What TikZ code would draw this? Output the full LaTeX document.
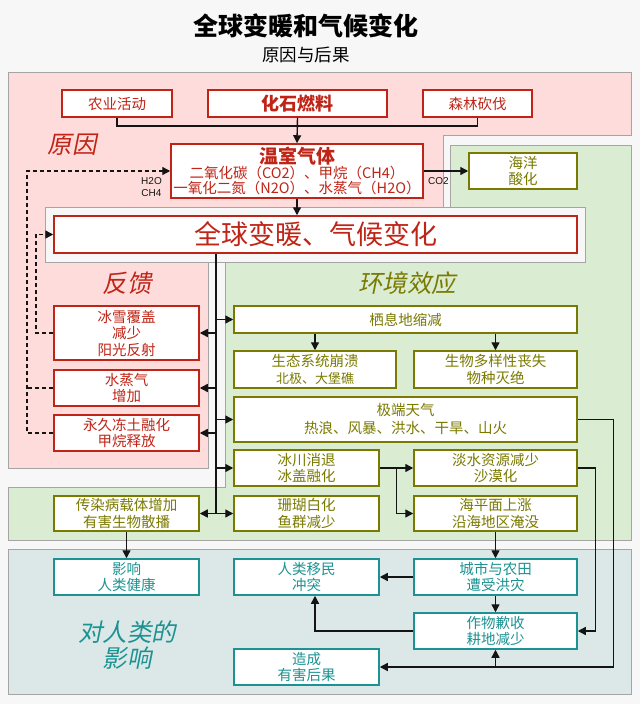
\documentclass[tikz,border=0pt]{standalone}
\usepackage{fontspec}
\setmainfont{Noto Sans CJK SC}
\newfontfamily\slfont[FakeSlant=0.2]{Noto Sans CJK SC}
\newfontfamily\arialf{Liberation Sans}
\usetikzlibrary{arrows.meta,calc}
\definecolor{bgc}{RGB}{247,247,247}
\definecolor{pinkc}{RGB}{255,220,220}
\definecolor{greenc}{RGB}{218,237,211}
\definecolor{tealc}{RGB}{220,232,232}
\definecolor{regb}{RGB}{165,165,165}
\definecolor{redc}{RGB}{192,36,22}
\definecolor{olivec}{RGB}{122,122,0}
\definecolor{tealt}{RGB}{28,146,146}
\definecolor{linec}{RGB}{20,20,20}
\tikzset{
 box/.style={draw, line width=1.5pt, fill=white, inner sep=0pt, align=center, font=\fontsize{14.5}{16.5}\selectfont},
 redbox/.style={box, draw=redc, text=redc},
 olbox/.style={box, draw=olivec, text=olivec},
 tlbox/.style={box, draw=tealt, text=tealt},
 sz/.style 2 args={minimum width=#1pt, minimum height=#2pt},
 conn/.style={draw=linec, line width=1.4pt},
 arr/.style={conn, -{Triangle[length=8pt,width=8pt]}},
 darr/.style={conn, {Triangle[length=8pt,width=8pt]}-{Triangle[length=8pt,width=8pt]}},
 dsh/.style={conn, dash pattern=on 4pt off 3pt},
 region/.style={draw=regb, line width=1pt},
 lbl/.style={font=\arialf\fontsize{10}{12}\selectfont, text=linec, inner sep=0pt},
 sect/.style={font=\slfont\fontsize{24.5}{27}\selectfont, inner sep=0pt, align=center},
}
\begin{document}
\begin{tikzpicture}[x=1pt,y=-1pt]
\useasboundingbox (0,0) rectangle (640,704);
\fill[bgc] (0,0) rectangle (640,704);
% regions
\path[region, fill=pinkc] (8,72) -- (631,72) -- (631,135) -- (443,135) -- (443,240) -- (208,240) -- (208,468) -- (8,468) -- cycle;
\path[region, fill=greenc] (450,145) -- (631,145) -- (631,540) -- (8,540) -- (8,487) -- (225,487) -- (225,240) -- (450,240) -- cycle;
\path[region, fill=bgc] (45,207) rectangle (585,262);
\path[region, fill=tealc] (8,549) rectangle (631,694);
% titles
\node[font=\fontsize{25}{28}\selectfont\bfseries, inner sep=0pt] (title) at (306,26) {全球变暖和气候变化};
\node[font=\fontsize{17.5}{20}\selectfont, inner sep=0pt] (subtitle) at (306,55) {原因与后果};
% section labels
\node[sect, text=redc] (lcause) at (72,145) {原因};
\node[sect, text=redc] (lfb) at (127,283) {反馈};
\node[sect, text=olivec] (lenv) at (407,283) {环境效应};
\node[sect, text=tealt, font=\slfont\fontsize{24.5}{26}\selectfont] (lhum) at (127,645) {对人类的\\影响};
% causes
\node[redbox, sz={110}{27}] (agri) at (117,103.5) {农业活动};
\node[redbox, sz={179}{27}, font=\fontsize{18}{20}\selectfont\bfseries] (fossil) at (297.5,103.5) {化石燃料};
\node[redbox, sz={252}{54}, font=\fontsize{14.5}{15}\selectfont] (ghg) at (297,171) {{\fontsize{19}{20}\selectfont\bfseries 温室气体}\\[-0.5pt]二氧化碳（CO2）、甲烷（CH4）\\一氧化二氮（N2O）、水蒸气（H2O）};
\node[redbox, sz={109}{27}] (forest) at (477.5,103.5) {森林砍伐};
\node[olbox, sz={108}{36}] (ocean) at (523,171) {海洋\\酸化};
\node[redbox, sz={523}{37}, font=\fontsize{27}{30}\selectfont] (warm) at (315.5,234.5) {全球变暖、气候变化};
% feedback
\node[redbox, sz={145}{54}] (fb1) at (126.5,333) {冰雪覆盖\\减少\\阳光反射};
\node[redbox, sz={145}{36}] (fb2) at (126.5,388) {水蒸气\\增加};
\node[redbox, sz={145}{36}] (fb3) at (126.5,433) {永久冻土融化\\甲烷释放};
% environment
\node[olbox, sz={343}{27}] (hab) at (405.5,319.5) {栖息地缩减};
\node[olbox, sz={162}{37}] (eco) at (315,369.5) {生态系统崩溃\\{\fontsize{13}{15}\selectfont 北极、大堡礁}};
\node[olbox, sz={163}{37}] (bio) at (495.5,369.5) {生物多样性丧失\\物种灭绝};
\node[olbox, sz={343}{45}] (ext) at (405.5,419.5) {极端天气\\[1.5pt]热浪、风暴、洪水、干旱、山火};
\node[olbox, sz={145}{36}] (glac) at (306.5,468) {冰川消退\\冰盖融化};
\node[olbox, sz={163}{36}] (fresh) at (495.5,468) {淡水资源减少\\沙漠化};
\node[olbox, sz={145}{35}] (coral) at (306.5,513.5) {珊瑚白化\\鱼群减少};
\node[olbox, sz={163}{35}] (sea) at (495.5,513.5) {海平面上涨\\沿海地区淹没};
\node[olbox, sz={145}{35}] (disease) at (126.5,513.5) {传染病载体增加\\有害生物散播};
% human
\node[tlbox, sz={145}{36}] (health) at (126.5,577) {影响\\人类健康};
\node[tlbox, sz={145}{36}] (migr) at (306.5,577) {人类移民\\冲突};
\node[tlbox, sz={163}{36}] (city) at (495.5,577) {城市与农田\\遭受洪灾};
\node[tlbox, sz={163}{36}] (crop) at (495.5,631) {作物歉收\\耕地减少};
\node[tlbox, sz={145}{36}] (harm) at (306.5,667) {造成\\有害后果};
% labels
\node[lbl] (co2) at (438.5,181) {CO2};
\node[lbl] (h2o) at (151.5,181) {H2O};
\node[lbl] (ch4) at (151.5,193) {CH4};
% connectors causes
\coordinate (jt) at (0,126);
\draw[conn] (agri.south) -- (agri.south |- jt) -- (forest.south |- jt) -- (forest.south);
\draw[arr] (fossil.south) -- (ghg.north);
\draw[arr] (ghg.south) -- (ghg.south |- warm.north);
\draw[arr] (ghg.east) -- (ocean.west);
% bus
\coordinate (bus) at (216,0);
\draw[conn] (bus |- warm.south) -- (bus |- disease.east);
\draw[arr] (bus |- fb1.east) -- (fb1.east);
\draw[arr] (bus |- fb2.east) -- (fb2.east);
\draw[arr] (bus |- fb3.east) -- (fb3.east);
\draw[arr] (bus |- hab.west) -- (hab.west);
\draw[arr] (bus |- ext.west) -- (ext.west);
\draw[arr] (bus |- glac.west) -- (glac.west);
\draw[darr] (disease.east) -- (coral.west);
% dashed feedback
\coordinate (dl1) at (36,0);
\coordinate (dl2) at (27,0);
\draw[dsh, -{Triangle[length=8pt,width=8pt]}] (fb1.west) -- (dl1 |- fb1.west) -- (dl1 |- warm.west) -- (warm.west);
\draw[dsh, -{Triangle[length=8pt,width=8pt]}] (fb3.west) -- (dl2 |- fb3.west) -- (dl2 |- ghg.west) -- (ghg.west);
\draw[dsh] (fb2.west) -- (dl2 |- fb2.west);
% environment connectors
\draw[arr] (hab.south -| eco.north) -- (eco.north);
\draw[arr] (hab.south -| bio.north) -- (bio.north);
\coordinate (jg) at ($(glac.east)!0.5!(fresh.west)$);
\draw[arr] (glac.east) -- (fresh.west);
\draw[arr] (jg) |- (sea.west);
% human connectors
\draw[arr] (disease.south) -- (health.north);
\draw[arr] (sea.south) -- (city.north);
\draw[arr] (city.west) -- (migr.east);
\draw[arr] (city.south) -- (crop.north);
\draw[arr] (crop.west) -| (migr.south -| eco.south);
\draw[arr] (fresh.east) -- ++(18,0) |- (crop.east);
\draw[arr] (ext.east) -- ++(36,0) |- (harm.east);
\draw[arr] (crop.south |- harm.east) -- (crop.south);
\end{tikzpicture}
\end{document}
